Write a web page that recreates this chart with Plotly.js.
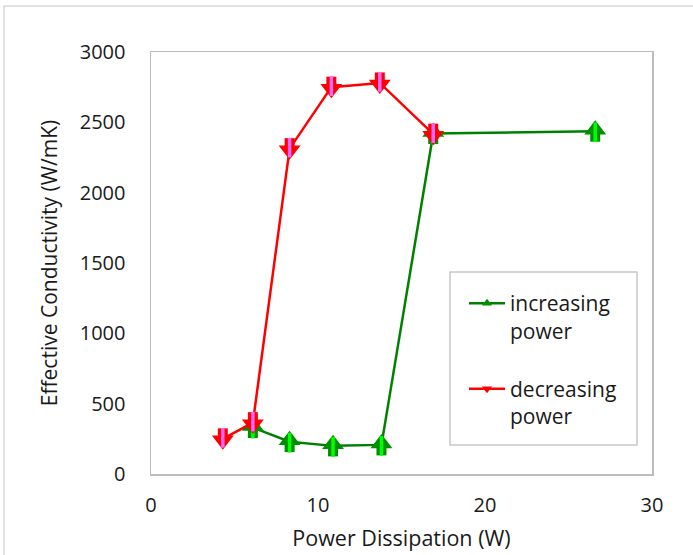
<!DOCTYPE html>
<html>
<head>
<meta charset="utf-8">
<script src="https://cdn.plot.ly/plotly-3.0.1.min.js"></script>
<style>html,body{margin:0;padding:0;background:#fff;}#chart{width:693px;height:555px;}</style>
</head>
<body>
<div id="chart"></div>
<script>
// Data
const incName = 'increasing<br>power';
const decName = 'decreasing<br>power';
const xInc = [6.1, 8.3, 10.9, 13.8, 16.9, 26.6];
const yInc = [330, 230, 200, 207, 2420, 2437];
const xDec = [4.3, 6.1, 8.3, 10.8, 13.7, 16.9];
const yDec = [250, 365, 2313, 2750, 2780, 2416];
const xTitle = 'Power Dissipation (W)';
const yTitle = 'Effective Conductivity (W/mK)';

const FONT = 'Open Sans, Noto Sans, sans-serif';
const TXT = '#1a1a1a';
const GREEN_LINE = '#008000', GREEN_FILL = '#008f00', GREEN_IN = '#00ff00';
const RED_LINE = '#ff0000', RED_FILL = '#ff0000', RED_IN = '#ff66ff';

function seriesTraces(x, y, up, lineC, fillC, innerC) {
  const common = {x: x, y: y, type: 'scatter', showlegend: false, hoverinfo: 'skip', cliponaxis: false};
  return [
    Object.assign({}, common, {mode: 'lines', line: {color: lineC, width: 2.5}}),
    // shaft
    Object.assign({}, common, {mode: 'markers', marker: {symbol: 'square', size: 10, color: fillC,
      angle: up ? 0 : 180, standoff: 5.5, line: {width: 0}}}),
    // head
    Object.assign({}, common, {mode: 'markers', marker: {symbol: 'triangle-down',
      size: 19, color: fillC, angle: up ? 180 : 0, standoff: 1.5, line: {width: 0}}}),
    // inner stripe
    Object.assign({}, common, {mode: 'markers', marker: {symbol: 'line-ns', size: 14, color: innerC,
      angle: up ? 0 : 180, standoff: 1, line: {width: 3.5, color: innerC}}})
  ];
}

const data = []
  .concat(seriesTraces(xInc, yInc, true, GREEN_LINE, GREEN_FILL, GREEN_IN))
  .concat(seriesTraces(xDec, yDec, false, RED_LINE, RED_FILL, RED_IN))
  .concat([
    {x: [null], y: [null], type: 'scatter', mode: 'lines+markers', name: incName, legendgroup: 'a',
     line: {color: GREEN_LINE, width: 2.5}, marker: {symbol: 'triangle-up', size: 9, color: GREEN_FILL}},
    {x: [null], y: [null], type: 'scatter', mode: 'lines+markers', name: decName, legendgroup: 'b',
     line: {color: RED_LINE, width: 2.5}, marker: {symbol: 'triangle-down', size: 9, color: RED_FILL}}
  ]);

const L = 151, R = 41, T = 52, B = 81;
const W = 693 - L - R, H = 555 - T - B;
const px = v => (v - L) / W;
const py = v => (555 - B - v) / H;

const layout = {
  width: 693, height: 555,
  margin: {l: L, r: R, t: T, b: B},
  paper_bgcolor: '#ffffff', plot_bgcolor: '#ffffff',
  font: {family: FONT, size: 20, color: TXT},
  showlegend: true,
  xaxis: {
    range: [0, 30], tick0: 0, dtick: 10, showgrid: false, zeroline: false,
    showline: true, mirror: true, linecolor: '#bcbcbc', linewidth: 1.5,
    ticks: '', ticklabelstandoff: 12,
    tickfont: {family: FONT, size: 20, color: TXT},
    title: {text: xTitle, standoff: 14, font: {family: FONT, size: 21.5, color: TXT}}
  },
  yaxis: {
    range: [0, 3000], tick0: 0, dtick: 500, showgrid: false, zeroline: false,
    showline: true, mirror: true, linecolor: '#bcbcbc', linewidth: 1.5,
    ticks: '', ticklabelstandoff: 20,
    tickfont: {family: FONT, size: 20, color: TXT},
    title: {text: yTitle, standoff: 16, font: {family: FONT, size: 21, color: TXT}}
  },
  legend: {
    x: px(464), y: py(283), xanchor: 'left', yanchor: 'top',
    bgcolor: 'rgba(0,0,0,0)', borderwidth: 0,
    font: {family: FONT, size: 21, color: TXT},
    valign: 'top', traceorder: 'grouped', tracegroupgap: 28, itemwidth: 36
  },
  shapes: [
    {type: 'rect', xref: 'paper', yref: 'paper', x0: px(4), x1: px(720), y0: py(600), y1: py(6),
     line: {color: '#d9d9d9', width: 1.5}, fillcolor: 'rgba(0,0,0,0)', layer: 'below'},
    {type: 'rect', xref: 'paper', yref: 'paper', x0: px(450), x1: px(637), y0: py(445), y1: py(272),
     line: {color: '#c8c8c8', width: 1.5}, fillcolor: '#ffffff', layer: 'above'}
  ]
};

Plotly.newPlot('chart', data, layout, {displayModeBar: false, staticPlot: true});
</script>
</body>
</html>
